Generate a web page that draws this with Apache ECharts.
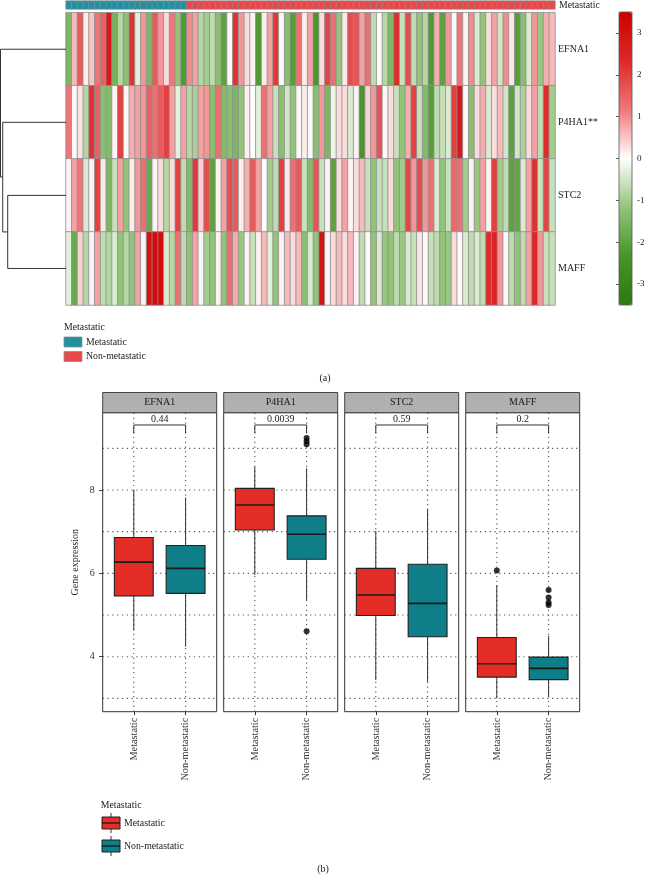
<!DOCTYPE html>
<html><head><meta charset="utf-8">
<script src="https://cdn.jsdelivr.net/npm/echarts@6/dist/echarts.min.js"></script>
<style>html,body{margin:0;padding:0;background:#fff}#c{width:650px;height:876px}</style>
</head><body><div id="c"></div>
<script>
// ---------------- DATA ----------------
const groupNames = ['Metastatic', 'Non-metastatic'];
// sample annotation: 0 = Metastatic, 1 = Non-metastatic
const sampleGroup = [
  0,0,0,0,0,0,0,0,0,0,0,0,0,0,0,0,0,0,0,0,0,
  1,1,1,1,1,1,1,1, 1,1,1,1,1,1,1,1, 1,1,1,1,1,1,1,1, 1,1,1,1,1,1,1,1,
  1,1,1,1,1,1,1,1, 1,1,1,1,1,1,1,1, 1,1,1,1,1,1,1,1, 1,1,1,1,1,1,1,1
];
const rowLabels = ['EFNA1', 'P4HA1**', 'STC2', 'MAFF'];
const efna1 = [-1.5,0.6,1.6,0.15,0.5,1.2,1.5,2.8,-1.6,-0.8,-1.3,2.2,-0.3,0.9,-1.5,1.6,0.9,0.3,1.2,-1.2,-2.2,1.0,0.8,-0.8,-1.0,-0.7,-1.3,
  -2.0,0.05,2.2,0.9,0.3,0.1,-2.2,0.15,0.8,2.1,0.05,-1.3,-2.1,1.3,0.15,0.8,-2.3,0.3,1.9,1.3,-1.2,0.2,1.8,1.7,0.8,1.3,-0.7,0.05,-0.8,-1.5,2.3,
  -0.6,1.8,-0.7,-1.2,-0.8,-2.2,0.7,-2.0,0.9,0.05,1.2,0.1,1.0,-0.4,-1.2,0.3,0.8,-0.5,1.0,0.2,-2.1,-1.3,-0.4,0.9,-1.1,0.7,0.6];
const p4ha1 = [1.2,0.05,0.25,-0.8,2.2,1.5,-1.3,-1.4,0.1,2.0,0.05,0.7,0.8,0.9,1.5,1.3,1.6,2.0,0.8,-0.3,0.8,-0.8,-0.9,0.8,0.9,-1.3,
  1.3,-1.4,-1.3,-1.5,-1.2,0.15,0.0,-0.3,1.3,0.8,-0.6,-1.3,-0.5,-1.2,0.05,0.15,-0.05,-1.3,0.9,-1.5,-0.2,0.3,0.3,-0.4,0.1,-2.3,0.4,0.9,1.7,0.05,
  0.3,-0.6,-1.2,0.7,2.0,-0.6,-1.4,-2.1,-0.7,-0.6,-0.4,2.0,2.8,0.05,-1.3,0.3,0.7,-0.4,0.3,0.6,-0.5,-2.0,-0.5,-0.9,0.3,0.8,-0.7,2.3,-1.0];
const stc2 = [0.1,0.8,1.2,-0.4,0.1,2.0,0.2,-1.5,-0.6,0.8,-1.2,0.15,0.9,1.3,-1.8,0.1,0.3,-0.8,0.3,2.0,-0.7,-1.4,2.1,0.4,
  1.8,-2.0,0.1,0.8,1.8,1.6,0.15,0.7,1.6,0.8,0.0,-1.0,-0.7,2.0,0.2,1.3,1.6,-0.6,-1.4,1.7,-0.6,0.1,-2.0,0.3,0.8,0.1,0.3,0.6,-0.6,-1.2,-0.6,
  -0.6,0.3,-1.2,-1.0,1.9,0.9,1.8,0.9,1.3,-0.4,-1.2,-0.6,1.4,1.3,-1.0,0.1,-1.1,0.8,0.1,2.0,-1.0,-0.7,-2.0,-1.9,-0.4,0.8,2.2,-0.6,1.9,-0.6];
const maff = [-0.3,-1.8,0.4,-0.8,0.1,0.8,-0.7,-0.8,-0.4,-1.2,-0.8,-1.2,0.8,0.1,3.0,3.2,3.1,-0.4,-0.8,1.3,-0.7,-1.2,0.8,0.1,-1.0,-1.2,0.1,
  -1.2,1.3,0.7,-1.1,0.1,-0.6,0.1,0.6,-0.3,-1.2,0.1,0.6,0.3,0.6,-1.3,-0.4,-1.2,3.0,0.1,0.3,0.6,0.3,0.6,0.1,-0.7,0.05,-1.2,-0.4,
  -1.1,-1.2,-0.7,-1.1,-0.4,-0.6,0.2,0.05,-0.6,-0.7,-1.2,-1.1,0.3,0.05,-0.4,-0.7,-0.4,-0.7,2.3,2.5,0.9,0.05,-0.7,-1.2,-0.7,0.8,2.4,0.9,-0.6,-0.6];
// row dendrogram merges [childA, childB, height]; negative = earlier merge
const dendroMerges = [[2, 3, 0.89], [1, -1, 0.966], [0, -2, 1.0]];
const colorTicks = [-3, -2, -1, 0, 1, 2, 3];

// boxplots
const facetGenes = ['EFNA1', 'P4HA1', 'STC2', 'MAFF'];
const pValues = ['0.44', '0.0039', '0.59', '0.2'];
// [lower whisker, Q1, median, Q3, upper whisker]
const statsMetastatic = [
  [4.63, 5.46, 6.27, 6.86, 8.00],
  [5.96, 7.04, 7.64, 8.04, 8.56],
  [3.44, 4.99, 5.48, 6.12, 7.02],
  [3.00, 3.51, 3.83, 4.46, 5.72]
];
const statsNonMetastatic = [
  [4.24, 5.52, 6.12, 6.67, 7.82],
  [5.36, 6.34, 6.94, 7.38, 8.52],
  [3.40, 4.48, 5.28, 6.22, 7.55],
  [3.04, 3.45, 3.72, 3.99, 4.50]
];
const outliersMetastatic = [[], [], [], [6.07]];
const outliersNonMetastatic = [[], [9.25, 9.17, 9.10, 4.61], [], [5.60, 5.42, 5.30, 5.24]];
const yTickLabels = [4, 6, 8];
const yGridValues = [3, 4, 5, 6, 7, 8, 9];
const bracketLevel = 9.56;

// ---------------- CHART ----------------
const FONT = 'Liberation Serif';
const TEAL_ANNO = '#2190A2', RED_ANNO = '#E9484B';
const RED_BOX = '#E42D27', TEAL_BOX = '#0E7E89';
const chart = echarts.init(document.getElementById('c'));

const heatRows = [efna1, p4ha1, stc2, maff];
const colNames = sampleGroup.map((g, i) => 'S' + (i + 1));
const heatData = [];
heatRows.forEach((row, r) => row.forEach((v, c) => heatData.push([c, r, v])));
const annoData = sampleGroup.map((g, c) => [c, 0, g]);

const mergePos = [];
const dendroData = dendroMerges.map((m, i) => {
  const pos = id => id >= 0 ? [id, 0] : mergePos[-id - 1];
  const a = pos(m[0]), b = pos(m[1]);
  mergePos[i] = [(a[0] + b[0]) / 2, m[2]];
  return [a[0], a[1], b[0], b[1], m[2]];
});

const grids = [
  {left: 66, top: 12.7, width: 489, height: 292.3},            // 0 heatmap
  {left: 66, top: 0, width: 489, height: 9},                   // 1 annotation
  {left: 0.5, top: 12.7, width: 65.5, height: 292.3},          // 2 dendrogram
  {left: 619, top: 12, width: 13, height: 293, show: true, z: 10,
   borderColor: '#555', borderWidth: 0.8, backgroundColor: 'transparent'} // 3 colorbar axis
];
const xAxes = [
  {type: 'category', gridIndex: 0, data: colNames, show: false},
  {type: 'category', gridIndex: 1, data: colNames, show: false},
  {type: 'value', gridIndex: 2, min: 0, max: 1, inverse: true, show: false},
  {type: 'value', gridIndex: 3, min: 0, max: 1, show: false}
];
const yAxes = [
  {type: 'category', gridIndex: 0, data: rowLabels, inverse: true, position: 'right',
   axisLine: {show: false}, axisTick: {show: false},
   axisLabel: {fontFamily: FONT, fontSize: 10, color: '#222', margin: 3}},
  {type: 'category', gridIndex: 1, data: ['Metastatic'], position: 'right',
   axisLine: {show: false}, axisTick: {show: false},
   axisLabel: {fontFamily: FONT, fontSize: 9.8, color: '#222', margin: 4}},
  {type: 'value', gridIndex: 2, min: -0.5, max: 3.5, inverse: true, show: false},
  {type: 'value', gridIndex: 3, min: -3.5, max: 3.5, position: 'right',
   axisLine: {show: false}, splitLine: {show: false},
   axisTick: {show: true, inside: true, length: 3, customValues: colorTicks, lineStyle: {color: '#333', width: 0.8}},
   axisLabel: {customValues: colorTicks, fontFamily: FONT, fontSize: 9, color: '#222', margin: 5}}
];
const series = [
  {type: 'heatmap', xAxisIndex: 0, yAxisIndex: 0, data: heatData,
   itemStyle: {borderColor: '#8f8f8f', borderWidth: 0.8}, emphasis: {disabled: true}},
  {type: 'heatmap', xAxisIndex: 1, yAxisIndex: 1, data: annoData,
   itemStyle: {borderColor: '#8f8f8f', borderWidth: 0.6}, emphasis: {disabled: true}},
  {type: 'custom', xAxisIndex: 2, yAxisIndex: 2, data: dendroData, silent: true,
   renderItem: (p, api) => {
     const yA = api.value(0), hA = api.value(1), yB = api.value(2), hB = api.value(3), hM = api.value(4);
     return {type: 'polyline', shape: {points: [api.coord([hA, yA]), api.coord([hM, yA]), api.coord([hM, yB]), api.coord([hB, yB])]},
       style: {stroke: '#333', lineWidth: 1, fill: null}};
   }}
];

const panelW = 114, panelTop = 412.7, panelH = 299, panelStep = 121, panelLeft0 = 102.7;
const yMin = 2.68, yMax = 9.855, xMin = 0.4, xMax = 2.6;
const graphics = [];
facetGenes.forEach((gene, g) => {
  const gi = grids.length;
  const left = panelLeft0 + g * panelStep;
  grids.push({left: left, top: panelTop, width: panelW, height: panelH, show: true,
    borderColor: '#333', borderWidth: 1, backgroundColor: '#fff'});
  xAxes.push({type: 'value', gridIndex: gi, min: xMin, max: xMax,
    axisLine: {show: false}, splitLine: {show: false},
    axisTick: {show: true, customValues: [1, 2], length: 3.5, lineStyle: {color: '#333'}},
    axisLabel: {customValues: [1, 2], rotate: 90, margin: 6, formatter: v => groupNames[Math.round(v) - 1],
      fontFamily: FONT, fontSize: 10.3, color: '#333'}});
  yAxes.push({type: 'value', gridIndex: gi, min: yMin, max: yMax,
    axisLine: {show: false}, splitLine: {show: false},
    axisTick: {show: g === 0, customValues: yTickLabels, length: 3.5, lineStyle: {color: '#333'}},
    axisLabel: {show: g === 0, customValues: yTickLabels, margin: 8, fontFamily: FONT, fontSize: 10, color: '#333'},
    name: g === 0 ? 'Gene expression' : '', nameLocation: 'middle', nameGap: 22,
    nameTextStyle: {fontFamily: FONT, fontSize: 10, color: '#222'}});
  const xi = xAxes.length - 1, yi = yAxes.length - 1;
  // dotted grid lines
  const gl = yGridValues.map(v => [0, v]).concat([1, 2].map(v => [1, v]));
  series.push({type: 'custom', xAxisIndex: xi, yAxisIndex: yi, data: gl, silent: true, z: 1,
    renderItem: (p, api) => {
      const o = api.value(0), v = api.value(1);
      const a = o === 0 ? api.coord([xMin, v]) : api.coord([v, yMin]);
      const b = o === 0 ? api.coord([xMax, v]) : api.coord([v, yMax]);
      return {type: 'line', shape: {x1: a[0], y1: a[1], x2: b[0], y2: b[1]},
        style: {stroke: '#555', lineWidth: 1.1, lineDash: [1.2, 3.6]}};
    }});
  // boxes
  const boxData = [[1].concat(statsMetastatic[g]), [2].concat(statsNonMetastatic[g])];
  const boxColors = [RED_BOX, TEAL_BOX];
  series.push({type: 'custom', xAxisIndex: xi, yAxisIndex: yi, data: boxData, silent: true, z: 3,
    renderItem: (p, api) => {
      const x = api.value(0), lo = api.value(1), q1 = api.value(2), md = api.value(3), q3 = api.value(4), hi = api.value(5);
      const h = 0.375;
      const tl = api.coord([x - h, q3]), br = api.coord([x + h, q1]);
      const pHi = api.coord([x, hi]), pQ3 = api.coord([x, q3]), pQ1 = api.coord([x, q1]), pLo = api.coord([x, lo]);
      const mL = api.coord([x - h, md]), mR = api.coord([x + h, md]);
      return {type: 'group', children: [
        {type: 'line', shape: {x1: pHi[0], y1: pHi[1], x2: pQ3[0], y2: pQ3[1]}, style: {stroke: '#333', lineWidth: 1}},
        {type: 'line', shape: {x1: pQ1[0], y1: pQ1[1], x2: pLo[0], y2: pLo[1]}, style: {stroke: '#333', lineWidth: 1}},
        {type: 'rect', shape: {x: tl[0], y: tl[1], width: br[0] - tl[0], height: br[1] - tl[1]},
          style: {fill: boxColors[p.dataIndex], stroke: '#222', lineWidth: 1.1}},
        {type: 'line', shape: {x1: mL[0], y1: mL[1], x2: mR[0], y2: mR[1]}, style: {stroke: '#1a1a1a', lineWidth: 1.6}}
      ]};
    }});
  // outliers
  const outl = outliersMetastatic[g].map(v => [1, v]).concat(outliersNonMetastatic[g].map(v => [2, v]));
  series.push({type: 'scatter', xAxisIndex: xi, yAxisIndex: yi, data: outl, symbolSize: 6, z: 4, silent: true,
    itemStyle: {color: '#000'}});
  // p-value bracket
  const pv = pValues[g];
  series.push({type: 'custom', xAxisIndex: xi, yAxisIndex: yi, data: [[1, 2, bracketLevel]], silent: true, z: 4,
    renderItem: (p, api) => {
      const x1 = api.value(0), x2 = api.value(1), y = api.value(2);
      const a = api.coord([x1, y - 0.2]), b = api.coord([x1, y]), c = api.coord([x2, y]), d = api.coord([x2, y - 0.2]);
      return {type: 'group', children: [
        {type: 'polyline', shape: {points: [a, b, c, d]}, style: {stroke: '#333', lineWidth: 1, fill: null}},
        {type: 'text', x: (b[0] + c[0]) / 2, y: b[1] - 0.3,
          style: {text: pv, fontFamily: FONT, fontSize: 10, fill: '#222', align: 'center', verticalAlign: 'bottom'}}
      ]};
    }});
  // strip
  graphics.push({type: 'rect', shape: {x: left, y: 392.5, width: panelW, height: 20.2},
    style: {fill: '#B0B0B0', stroke: '#333', lineWidth: 0.9}});
  graphics.push({type: 'text', x: left + panelW / 2, y: 402.8,
    style: {text: gene, fontFamily: FONT, fontSize: 10, fill: '#1a1a1a', align: 'center', verticalAlign: 'middle'}});
});

// legends & captions
const txt = (t, x, y, size, align) => ({type: 'text', x: x, y: y,
  style: {text: t, fontFamily: FONT, fontSize: size, fill: '#222', align: align || 'left', verticalAlign: 'middle'}});
graphics.push(txt('Metastatic', 64, 327, 9.8));
graphics.push({type: 'rect', shape: {x: 64, y: 337, width: 18, height: 10}, style: {fill: TEAL_ANNO, stroke: '#8f8f8f', lineWidth: 0.8}});
graphics.push(txt(groupNames[0], 86, 342, 9.8));
graphics.push({type: 'rect', shape: {x: 64, y: 351.5, width: 18, height: 10}, style: {fill: RED_ANNO, stroke: '#8f8f8f', lineWidth: 0.8}});
graphics.push(txt(groupNames[1], 86, 356.5, 9.8));
graphics.push(txt('(a)', 325, 378, 10, 'center'));

graphics.push(txt('Metastatic', 100.7, 805, 9.8));
[[RED_BOX, 817], [TEAL_BOX, 840]].forEach((k, i) => {
  const y0 = k[1];
  graphics.push({type: 'line', shape: {x1: 111, y1: y0 - 4, x2: 111, y2: y0 + 16}, style: {stroke: '#333', lineWidth: 1}});
  graphics.push({type: 'rect', shape: {x: 102, y: y0, width: 18, height: 12}, style: {fill: k[0], stroke: '#222', lineWidth: 1}});
  graphics.push({type: 'line', shape: {x1: 102, y1: y0 + 6, x2: 120, y2: y0 + 6}, style: {stroke: '#1a1a1a', lineWidth: 1.3}});
  graphics.push(txt(groupNames[i], 124, y0 + 6, 9.8));
});
graphics.push(txt('(b)', 323, 869, 10, 'center'));

chart.setOption({
  animation: false,
  backgroundColor: '#fff',
  grid: grids, xAxis: xAxes, yAxis: yAxes, series: series,
  visualMap: [
    {type: 'continuous', seriesIndex: 0, dimension: 2, min: -3.5, max: 3.5, show: true,
     left: 619, top: 12, itemWidth: 13, itemHeight: 293, padding: 0, calculable: false, hoverLink: false,
     inRange: {color: ['#2A7A10', '#479528', '#93C47A', '#FFFFFF', '#EE787B', '#DE2929', '#CC0000']}},
    {type: 'piecewise', seriesIndex: 1, dimension: 2, show: false,
     pieces: [{value: 0, color: TEAL_ANNO}, {value: 1, color: RED_ANNO}]}
  ],
  graphic: graphics
});
</script></body></html>
